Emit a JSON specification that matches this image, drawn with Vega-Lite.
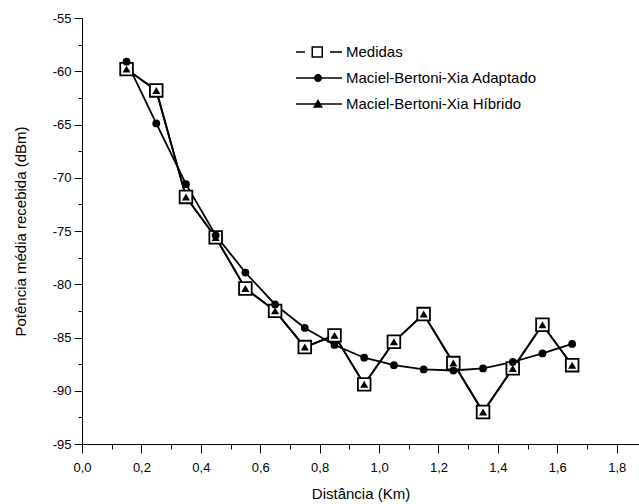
{
  "$schema": "https://vega.github.io/schema/vega-lite/v6.json",
  "width": 557,
  "height": 426,
  "autosize": {"type": "none"},
  "padding": {"left": 82, "top": 18, "right": 0, "bottom": 60},
  "background": "white",
  "config": {
    "view": {"stroke": null},
    "font": "Liberation Sans",
    "axis": {"grid": false, "domainColor": "black", "tickColor": "black", "labelColor": "black", "titleColor": "black", "labelFont": "Liberation Sans", "titleFont": "Liberation Sans", "titleFontWeight": "normal", "labelFontSize": 13, "titleFontSize": 15, "domainWidth": 1, "tickWidth": 1}
  },
  "datasets": {
    "pts": [
      {"d": 0.15, "serie": "Medidas", "p": -59.8},
      {"d": 0.25, "serie": "Medidas", "p": -61.8},
      {"d": 0.35, "serie": "Medidas", "p": -71.8},
      {"d": 0.45, "serie": "Medidas", "p": -75.6},
      {"d": 0.55, "serie": "Medidas", "p": -80.4},
      {"d": 0.65, "serie": "Medidas", "p": -82.5},
      {"d": 0.75, "serie": "Medidas", "p": -85.9},
      {"d": 0.85, "serie": "Medidas", "p": -84.8},
      {"d": 0.95, "serie": "Medidas", "p": -89.4},
      {"d": 1.05, "serie": "Medidas", "p": -85.4},
      {"d": 1.15, "serie": "Medidas", "p": -82.8},
      {"d": 1.25, "serie": "Medidas", "p": -87.4},
      {"d": 1.35, "serie": "Medidas", "p": -92.0},
      {"d": 1.45, "serie": "Medidas", "p": -87.9},
      {"d": 1.55, "serie": "Medidas", "p": -83.8},
      {"d": 1.65, "serie": "Medidas", "p": -87.6},
      {"d": 0.15, "serie": "Adaptado", "p": -59.1},
      {"d": 0.25, "serie": "Adaptado", "p": -64.9},
      {"d": 0.35, "serie": "Adaptado", "p": -70.6},
      {"d": 0.45, "serie": "Adaptado", "p": -75.4},
      {"d": 0.55, "serie": "Adaptado", "p": -78.9},
      {"d": 0.65, "serie": "Adaptado", "p": -81.9},
      {"d": 0.75, "serie": "Adaptado", "p": -84.1},
      {"d": 0.85, "serie": "Adaptado", "p": -85.7},
      {"d": 0.95, "serie": "Adaptado", "p": -86.9},
      {"d": 1.05, "serie": "Adaptado", "p": -87.6},
      {"d": 1.15, "serie": "Adaptado", "p": -88.0},
      {"d": 1.25, "serie": "Adaptado", "p": -88.1},
      {"d": 1.35, "serie": "Adaptado", "p": -87.9},
      {"d": 1.45, "serie": "Adaptado", "p": -87.3},
      {"d": 1.55, "serie": "Adaptado", "p": -86.5},
      {"d": 1.65, "serie": "Adaptado", "p": -85.6},
      {"d": 0.15, "serie": "Hibrido", "p": -59.8},
      {"d": 0.25, "serie": "Hibrido", "p": -61.8},
      {"d": 0.35, "serie": "Hibrido", "p": -71.8},
      {"d": 0.45, "serie": "Hibrido", "p": -75.6},
      {"d": 0.55, "serie": "Hibrido", "p": -80.4},
      {"d": 0.65, "serie": "Hibrido", "p": -82.5},
      {"d": 0.75, "serie": "Hibrido", "p": -85.9},
      {"d": 0.85, "serie": "Hibrido", "p": -84.8},
      {"d": 0.95, "serie": "Hibrido", "p": -89.4},
      {"d": 1.05, "serie": "Hibrido", "p": -85.4},
      {"d": 1.15, "serie": "Hibrido", "p": -82.8},
      {"d": 1.25, "serie": "Hibrido", "p": -87.4},
      {"d": 1.35, "serie": "Hibrido", "p": -92.0},
      {"d": 1.45, "serie": "Hibrido", "p": -87.9},
      {"d": 1.55, "serie": "Hibrido", "p": -83.8},
      {"d": 1.65, "serie": "Hibrido", "p": -87.6}
    ]
  },
  "data": {"name": "pts"},
  "encoding": {
    "x": {"field": "d", "type": "quantitative", "scale": {"domain": [0, 1.875], "nice": false, "zero": false},
      "axis": {"title": "Distância (Km)", "values": [0,0.1,0.2,0.3,0.4,0.5,0.6,0.7,0.8,0.9,1.0,1.1,1.2,1.3,1.4,1.5,1.6,1.7,1.8],
        "labelExpr": "round(datum.value*10)%2==0 ? replace(format(datum.value,'.1f'),'.',',') : ''",
        "tickSize": {"expr": "round(datum.value*10)%2==0 ? 9 : 5"}, "labelPadding": 8, "titlePadding": 12, "labelFlush": false}},
    "y": {"field": "p", "type": "quantitative", "scale": {"domain": [-95, -55], "nice": false, "zero": false},
      "axis": {"title": "Potência média recebida (dBm)", "values": [-95,-92.5,-90,-87.5,-85,-82.5,-80,-77.5,-75,-72.5,-70,-67.5,-65,-62.5,-60,-57.5,-55],
        "labelExpr": "datum.value%5==0 ? ''+datum.value : ''",
        "tickSize": {"expr": "datum.value%5==0 ? 8 : 4"}, "labelPadding": 3, "titlePadding": 24}}
  },
  "layer": [
    {"mark": {"type": "line", "color": "black", "strokeWidth": 1.8},
     "encoding": {"detail": {"field": "serie"}}},
    {"transform": [{"filter": "datum.serie=='Medidas'"}],
     "mark": {"type": "point", "shape": "square", "size": 160, "filled": true, "fill": "white", "stroke": "black", "strokeWidth": 1.8, "opacity": 1}},
    {"transform": [{"filter": "datum.serie=='Adaptado'"}],
     "mark": {"type": "point", "shape": "circle", "size": 60, "filled": true, "color": "black", "opacity": 1}},
    {"transform": [{"filter": "datum.serie=='Hibrido'"}],
     "mark": {"type": "point", "shape": "triangle-up", "size": 65, "filled": true, "color": "black", "opacity": 1}},
    {"transform": [{"filter": "false"}],
     "mark": {"type": "point", "filled": true, "color": "black", "opacity": 1},
     "encoding": {"shape": {"field": "serie", "type": "nominal",
       "scale": {"domain": ["Medidas", "Adaptado", "Hibrido"],
         "range": [
           "M-3.6,-0.075H-2.7V0.075H-3.6ZM-0.2,-0.075H1V0.075H-0.2ZM-2.05,-0.575H-0.9V0.575H-2.05ZM-1.9,-0.425V0.425H-1.05V-0.425Z",
           "M-3.6,-0.075H1V0.075H-3.6ZM-1.8,0A0.4,0.4,0,1,1,-1,0A0.4,0.4,0,1,1,-1.8,0Z",
           "M-3.6,-0.075H1V0.075H-3.6ZM-1.4,-0.5L-0.9,0.38L-1.9,0.38Z"
         ]},
       "legend": {"title": null, "orient": "none", "legendX": 240, "legendY": 24, "padding": 0,
         "symbolSize": 400, "symbolStrokeWidth": 0, "symbolFillColor": "black", "symbolOpacity": 1,
         "labelFont": "Liberation Sans", "labelFontSize": 15, "labelColor": "black", "labelOffset": 4, "rowPadding": 8, "labelLimit": 400,
         "labelExpr": "datum.value=='Medidas' ? 'Medidas' : datum.value=='Adaptado' ? 'Maciel-Bertoni-Xia Adaptado' : 'Maciel-Bertoni-Xia Híbrido'",
         "encode": {"symbols": {"update": {"fill": {"value": "black"}, "opacity": {"value": 1}}}}}}}}
  ]
}
